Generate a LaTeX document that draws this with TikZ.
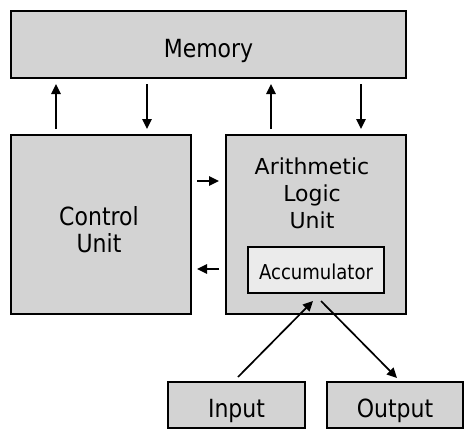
\documentclass[tikz,border=0pt]{standalone}
\usepackage{fontspec}
\setmainfont{DejaVu Sans}
\newfontfamily\narrowfont[FakeStretch=0.88]{DejaVu Sans}
\usetikzlibrary{arrows.meta}
\definecolor{boxgray}{HTML}{D3D3D3}
\definecolor{accgray}{HTML}{EBEBEB}
\begin{document}
\begin{tikzpicture}[x=1pt,y=-1pt,
  blk/.style={draw=black,line width=2pt,fill=boxgray},
  arr/.style={line width=1.7pt,-{Triangle[length=10pt,width=9.5pt]}},
  lbl/.style={font=\narrowfont\fontsize{25}{27}\selectfont,align=center,inner sep=0pt},
  albl/.style={font=\fontsize{22}{27}\selectfont,align=center,inner sep=0pt}]
\useasboundingbox (0,0) rectangle (474,439);
% boxes
\draw[blk] (11,11) rectangle (406,78);
\node[lbl,anchor=base] (mem) at (208.5,57) {Memory};
\draw[blk] (11,135) rectangle (191,314);
\node[lbl,anchor=north] (cu) at (99,206) {Control\\Unit};
\draw[blk] (226,135) rectangle (406,314);
\node[albl,anchor=north] (alu) at (312,157.3) {Arithmetic\\Logic\\Unit};
\draw[draw=black,line width=2pt,fill=accgray] (248,247) rectangle (384,293);
\node[font=\narrowfont\fontsize{20.5}{22}\selectfont,anchor=base,inner sep=0pt] (acc) at (316,279) {Accumulator};
\draw[blk] (168,382) rectangle (305,428);
\node[lbl,anchor=base] (in) at (236.5,417) {Input};
\draw[blk] (327,382) rectangle (463,428);
\node[lbl,anchor=base] (out) at (395,417) {Output};
% arrow end coordinates
\coordinate (m1a) at (56,129); \coordinate (m1b) at (56,84);
\coordinate (m2a) at (147,84); \coordinate (m2b) at (147,129);
\coordinate (m3a) at (271,129); \coordinate (m3b) at (271,84);
\coordinate (m4a) at (361,84); \coordinate (m4b) at (361,129);
\coordinate (h1a) at (197,181); \coordinate (h1b) at (219,181);
\coordinate (h2a) at (219,269); \coordinate (h2b) at (197,269);
\coordinate (ia) at (238,377); \coordinate (ib) at (313,301);
\coordinate (oa) at (321,301); \coordinate (ob) at (397,378);
\draw[arr] (m1a) -- (m1b);
\draw[arr] (m2a) -- (m2b);
\draw[arr] (m3a) -- (m3b);
\draw[arr] (m4a) -- (m4b);
\draw[arr] (h1a) -- (h1b);
\draw[arr] (h2a) -- (h2b);
\draw[arr] (ia) -- (ib);
\draw[arr] (oa) -- (ob);
\end{tikzpicture}
\end{document}
